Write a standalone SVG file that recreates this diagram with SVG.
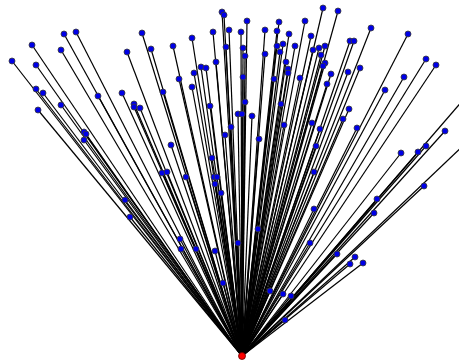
<svg xmlns="http://www.w3.org/2000/svg" width="459" height="362" viewBox="0 0 459 362">
<style>
.e line{stroke:#000;stroke-width:1.2}
.n circle{fill:#0000e6;stroke:#3a3a3a;stroke-width:0.8}
#root circle{fill:#ff0000;stroke:#600;stroke-width:0.8}
</style>
<rect width="459" height="362" fill="#fff"/>
<g class="e" id="connectors">
<line x1="242" y1="356" x2="142" y2="33"/><line x1="242" y1="356" x2="151" y2="49"/><line x1="242" y1="356" x2="76" y2="32"/><line x1="242" y1="356" x2="64" y2="34"/><line x1="242" y1="356" x2="32" y2="45"/><line x1="242" y1="356" x2="61" y2="50"/><line x1="242" y1="356" x2="127" y2="52"/><line x1="242" y1="356" x2="12" y2="61"/><line x1="242" y1="356" x2="36" y2="65"/><line x1="242" y1="356" x2="36" y2="89"/><line x1="242" y1="356" x2="43" y2="93"/><line x1="242" y1="356" x2="98" y2="96"/><line x1="242" y1="356" x2="122" y2="93"/><line x1="242" y1="356" x2="134" y2="104"/><line x1="242" y1="356" x2="61" y2="105"/><line x1="242" y1="356" x2="134" y2="107"/><line x1="242" y1="356" x2="140" y2="108"/><line x1="242" y1="356" x2="38" y2="110"/>
<line x1="242" y1="356" x2="222" y2="12"/><line x1="242" y1="356" x2="224" y2="15"/><line x1="242" y1="356" x2="247" y2="21"/><line x1="242" y1="356" x2="305" y2="21"/><line x1="242" y1="356" x2="279" y2="22"/><line x1="242" y1="356" x2="213" y2="32"/><line x1="242" y1="356" x2="229" y2="30"/><line x1="242" y1="356" x2="241" y2="32"/><line x1="242" y1="356" x2="265" y2="30"/><line x1="242" y1="356" x2="277" y2="31"/><line x1="242" y1="356" x2="289" y2="34"/><line x1="242" y1="356" x2="192" y2="38"/><line x1="242" y1="356" x2="173" y2="46"/><line x1="242" y1="356" x2="226" y2="47"/><line x1="242" y1="356" x2="243" y2="48"/><line x1="242" y1="356" x2="245" y2="56"/><line x1="242" y1="356" x2="277" y2="46"/><line x1="242" y1="356" x2="283" y2="44"/><line x1="242" y1="356" x2="280" y2="52"/><line x1="242" y1="356" x2="265" y2="54"/><line x1="242" y1="356" x2="295" y2="46"/><line x1="242" y1="356" x2="216" y2="62"/><line x1="242" y1="356" x2="201" y2="67"/><line x1="242" y1="356" x2="206" y2="68"/><line x1="242" y1="356" x2="194" y2="73"/><line x1="242" y1="356" x2="286" y2="62"/><line x1="242" y1="356" x2="288" y2="69"/><line x1="242" y1="356" x2="288" y2="73"/><line x1="242" y1="356" x2="179" y2="79"/><line x1="242" y1="356" x2="243" y2="77"/><line x1="242" y1="356" x2="274" y2="79"/><line x1="242" y1="356" x2="300" y2="78"/><line x1="242" y1="356" x2="163" y2="92"/><line x1="242" y1="356" x2="192" y2="87"/><line x1="242" y1="356" x2="245" y2="102"/><line x1="242" y1="356" x2="281" y2="104"/><line x1="242" y1="356" x2="210" y2="106"/>
<line x1="242" y1="356" x2="323" y2="8"/><line x1="242" y1="356" x2="338" y2="11"/><line x1="242" y1="356" x2="371" y2="28"/><line x1="242" y1="356" x2="408" y2="34"/><line x1="242" y1="356" x2="311" y2="36"/><line x1="242" y1="356" x2="313" y2="50"/><line x1="242" y1="356" x2="319" y2="48"/><line x1="242" y1="356" x2="325" y2="46"/><line x1="242" y1="356" x2="350" y2="41"/><line x1="242" y1="356" x2="354" y2="41"/><line x1="242" y1="356" x2="321" y2="55"/><line x1="242" y1="356" x2="325" y2="63"/><line x1="242" y1="356" x2="323" y2="66"/><line x1="242" y1="356" x2="426" y2="59"/><line x1="242" y1="356" x2="436" y2="65"/><line x1="242" y1="356" x2="360" y2="68"/><line x1="242" y1="356" x2="348" y2="72"/><line x1="242" y1="356" x2="331" y2="74"/><line x1="242" y1="356" x2="327" y2="84"/><line x1="242" y1="356" x2="404" y2="77"/><line x1="242" y1="356" x2="385" y2="90"/><line x1="242" y1="356" x2="349" y2="109"/>
<line x1="242" y1="356" x2="84" y2="132"/><line x1="242" y1="356" x2="86" y2="134"/><line x1="242" y1="356" x2="84" y2="140"/><line x1="242" y1="356" x2="125" y2="200"/><line x1="242" y1="356" x2="130" y2="217"/>
<line x1="242" y1="356" x2="238" y2="114"/><line x1="242" y1="356" x2="242" y2="114"/><line x1="242" y1="356" x2="252" y2="116"/><line x1="242" y1="356" x2="231" y2="127"/><line x1="242" y1="356" x2="225" y2="135"/><line x1="242" y1="356" x2="284" y2="125"/><line x1="242" y1="356" x2="171" y2="145"/><line x1="242" y1="356" x2="259" y2="139"/><line x1="242" y1="356" x2="212" y2="158"/><line x1="242" y1="356" x2="162" y2="173"/><line x1="242" y1="356" x2="167" y2="172"/><line x1="242" y1="356" x2="186" y2="177"/><line x1="242" y1="356" x2="214" y2="177"/><line x1="242" y1="356" x2="217" y2="177"/><line x1="242" y1="356" x2="215" y2="184"/><line x1="242" y1="356" x2="221" y2="193"/>
<line x1="242" y1="356" x2="312" y2="123"/><line x1="242" y1="356" x2="320" y2="129"/><line x1="242" y1="356" x2="343" y2="119"/><line x1="242" y1="356" x2="357" y2="128"/><line x1="242" y1="356" x2="445" y2="131"/><line x1="242" y1="356" x2="316" y2="146"/><line x1="242" y1="356" x2="426" y2="146"/><line x1="242" y1="356" x2="418" y2="152"/><line x1="242" y1="356" x2="401" y2="153"/><line x1="242" y1="356" x2="314" y2="172"/><line x1="242" y1="356" x2="424" y2="186"/><line x1="242" y1="356" x2="377" y2="199"/><line x1="242" y1="356" x2="374" y2="213"/><line x1="242" y1="356" x2="314" y2="209"/>
<line x1="242" y1="356" x2="180" y2="239"/><line x1="242" y1="356" x2="181" y2="249"/><line x1="242" y1="356" x2="196" y2="249"/><line x1="242" y1="356" x2="215" y2="251"/><line x1="242" y1="356" x2="238" y2="243"/><line x1="242" y1="356" x2="258" y2="229"/><line x1="242" y1="356" x2="223" y2="283"/><line x1="242" y1="356" x2="270" y2="291"/><line x1="242" y1="356" x2="283" y2="294"/><line x1="242" y1="356" x2="291" y2="296"/><line x1="242" y1="356" x2="285" y2="320"/><line x1="242" y1="356" x2="310" y2="243"/><line x1="242" y1="356" x2="337" y2="254"/><line x1="242" y1="356" x2="355" y2="257"/><line x1="242" y1="356" x2="350" y2="264"/><line x1="242" y1="356" x2="363" y2="263"/>
<line x1="242" y1="356" x2="470" y2="92"/><line x1="242" y1="356" x2="468" y2="141"/>
</g>
<g class="n">
<g id="n1"><circle cx="142" cy="33" r="3"/></g><g id="n2"><circle cx="151" cy="49" r="3"/></g><g id="n3"><circle cx="76" cy="32" r="3"/></g><g id="n4"><circle cx="64" cy="34" r="3"/></g><g id="n5"><circle cx="32" cy="45" r="3"/></g><g id="n6"><circle cx="61" cy="50" r="3"/></g><g id="n7"><circle cx="127" cy="52" r="3"/></g><g id="n8"><circle cx="12" cy="61" r="3"/></g><g id="n9"><circle cx="36" cy="65" r="3"/></g><g id="n10"><circle cx="36" cy="89" r="3"/></g><g id="n11"><circle cx="43" cy="93" r="3"/></g><g id="n12"><circle cx="98" cy="96" r="3"/></g><g id="n13"><circle cx="122" cy="93" r="3"/></g><g id="n14"><circle cx="134" cy="104" r="3"/></g><g id="n15"><circle cx="61" cy="105" r="3"/></g><g id="n16"><circle cx="134" cy="107" r="3"/></g><g id="n17"><circle cx="140" cy="108" r="3"/></g><g id="n18"><circle cx="38" cy="110" r="3"/></g>
<g id="n19"><circle cx="222" cy="12" r="3"/></g><g id="n20"><circle cx="224" cy="15" r="3"/></g><g id="n21"><circle cx="247" cy="21" r="3"/></g><g id="n22"><circle cx="305" cy="21" r="3"/></g><g id="n23"><circle cx="279" cy="22" r="3"/></g><g id="n24"><circle cx="213" cy="32" r="3"/></g><g id="n25"><circle cx="229" cy="30" r="3"/></g><g id="n26"><circle cx="241" cy="32" r="3"/></g><g id="n27"><circle cx="265" cy="30" r="3"/></g><g id="n28"><circle cx="277" cy="31" r="3"/></g><g id="n29"><circle cx="289" cy="34" r="3"/></g><g id="n30"><circle cx="192" cy="38" r="3"/></g><g id="n31"><circle cx="173" cy="46" r="3"/></g><g id="n32"><circle cx="226" cy="47" r="3"/></g><g id="n33"><circle cx="243" cy="48" r="3"/></g><g id="n34"><circle cx="245" cy="56" r="3"/></g><g id="n35"><circle cx="277" cy="46" r="3"/></g><g id="n36"><circle cx="283" cy="44" r="3"/></g><g id="n37"><circle cx="280" cy="52" r="3"/></g><g id="n38"><circle cx="265" cy="54" r="3"/></g><g id="n39"><circle cx="295" cy="46" r="3"/></g><g id="n40"><circle cx="216" cy="62" r="3"/></g><g id="n41"><circle cx="201" cy="67" r="3"/></g><g id="n42"><circle cx="206" cy="68" r="3"/></g><g id="n43"><circle cx="194" cy="73" r="3"/></g><g id="n44"><circle cx="286" cy="62" r="3"/></g><g id="n45"><circle cx="288" cy="69" r="3"/></g><g id="n46"><circle cx="288" cy="73" r="3"/></g><g id="n47"><circle cx="179" cy="79" r="3"/></g><g id="n48"><circle cx="243" cy="77" r="3"/></g><g id="n49"><circle cx="274" cy="79" r="3"/></g><g id="n50"><circle cx="300" cy="78" r="3"/></g><g id="n51"><circle cx="163" cy="92" r="3"/></g><g id="n52"><circle cx="192" cy="87" r="3"/></g><g id="n53"><circle cx="245" cy="102" r="3"/></g><g id="n54"><circle cx="281" cy="104" r="3"/></g><g id="n55"><circle cx="210" cy="106" r="3"/></g>
<g id="n56"><circle cx="323" cy="8" r="3"/></g><g id="n57"><circle cx="338" cy="11" r="3"/></g><g id="n58"><circle cx="371" cy="28" r="3"/></g><g id="n59"><circle cx="408" cy="34" r="3"/></g><g id="n60"><circle cx="311" cy="36" r="3"/></g><g id="n61"><circle cx="313" cy="50" r="3"/></g><g id="n62"><circle cx="319" cy="48" r="3"/></g><g id="n63"><circle cx="325" cy="46" r="3"/></g><g id="n64"><circle cx="350" cy="41" r="3"/></g><g id="n65"><circle cx="354" cy="41" r="3"/></g><g id="n66"><circle cx="321" cy="55" r="3"/></g><g id="n67"><circle cx="325" cy="63" r="3"/></g><g id="n68"><circle cx="323" cy="66" r="3"/></g><g id="n69"><circle cx="426" cy="59" r="3"/></g><g id="n70"><circle cx="436" cy="65" r="3"/></g><g id="n71"><circle cx="360" cy="68" r="3"/></g><g id="n72"><circle cx="348" cy="72" r="3"/></g><g id="n73"><circle cx="331" cy="74" r="3"/></g><g id="n74"><circle cx="327" cy="84" r="3"/></g><g id="n75"><circle cx="404" cy="77" r="3"/></g><g id="n76"><circle cx="385" cy="90" r="3"/></g><g id="n77"><circle cx="349" cy="109" r="3"/></g>
<g id="n78"><circle cx="84" cy="132" r="3"/></g><g id="n79"><circle cx="86" cy="134" r="3"/></g><g id="n80"><circle cx="84" cy="140" r="3"/></g><g id="n81"><circle cx="125" cy="200" r="3"/></g><g id="n82"><circle cx="130" cy="217" r="3"/></g>
<g id="n83"><circle cx="238" cy="114" r="3"/></g><g id="n84"><circle cx="242" cy="114" r="3"/></g><g id="n85"><circle cx="252" cy="116" r="3"/></g><g id="n86"><circle cx="231" cy="127" r="3"/></g><g id="n87"><circle cx="225" cy="135" r="3"/></g><g id="n88"><circle cx="284" cy="125" r="3"/></g><g id="n89"><circle cx="171" cy="145" r="3"/></g><g id="n90"><circle cx="259" cy="139" r="3"/></g><g id="n91"><circle cx="212" cy="158" r="3"/></g><g id="n92"><circle cx="162" cy="173" r="3"/></g><g id="n93"><circle cx="167" cy="172" r="3"/></g><g id="n94"><circle cx="186" cy="177" r="3"/></g><g id="n95"><circle cx="214" cy="177" r="3"/></g><g id="n96"><circle cx="217" cy="177" r="3"/></g><g id="n97"><circle cx="215" cy="184" r="3"/></g><g id="n98"><circle cx="221" cy="193" r="3"/></g>
<g id="n99"><circle cx="312" cy="123" r="3"/></g><g id="n100"><circle cx="320" cy="129" r="3"/></g><g id="n101"><circle cx="343" cy="119" r="3"/></g><g id="n102"><circle cx="357" cy="128" r="3"/></g><g id="n103"><circle cx="445" cy="131" r="3"/></g><g id="n104"><circle cx="316" cy="146" r="3"/></g><g id="n105"><circle cx="426" cy="146" r="3"/></g><g id="n106"><circle cx="418" cy="152" r="3"/></g><g id="n107"><circle cx="401" cy="153" r="3"/></g><g id="n108"><circle cx="314" cy="172" r="3"/></g><g id="n109"><circle cx="424" cy="186" r="3"/></g><g id="n110"><circle cx="377" cy="199" r="3"/></g><g id="n111"><circle cx="374" cy="213" r="3"/></g><g id="n112"><circle cx="314" cy="209" r="3"/></g>
<g id="n113"><circle cx="180" cy="239" r="3"/></g><g id="n114"><circle cx="181" cy="249" r="3"/></g><g id="n115"><circle cx="196" cy="249" r="3"/></g><g id="n116"><circle cx="215" cy="251" r="3"/></g><g id="n117"><circle cx="238" cy="243" r="3"/></g><g id="n118"><circle cx="258" cy="229" r="3"/></g><g id="n119"><circle cx="223" cy="283" r="3"/></g><g id="n120"><circle cx="270" cy="291" r="3"/></g><g id="n121"><circle cx="283" cy="294" r="3"/></g><g id="n122"><circle cx="291" cy="296" r="3"/></g><g id="n123"><circle cx="285" cy="320" r="3"/></g><g id="n124"><circle cx="310" cy="243" r="3"/></g><g id="n125"><circle cx="337" cy="254" r="3"/></g><g id="n126"><circle cx="355" cy="257" r="3"/></g><g id="n127"><circle cx="350" cy="264" r="3"/></g><g id="n128"><circle cx="363" cy="263" r="3"/></g>
<g id="n129"><circle cx="470" cy="92" r="3"/></g><g id="n130"><circle cx="468" cy="141" r="3"/></g>
</g>
<g id="root"><circle cx="242" cy="356" r="3.5"/></g>
</svg>
